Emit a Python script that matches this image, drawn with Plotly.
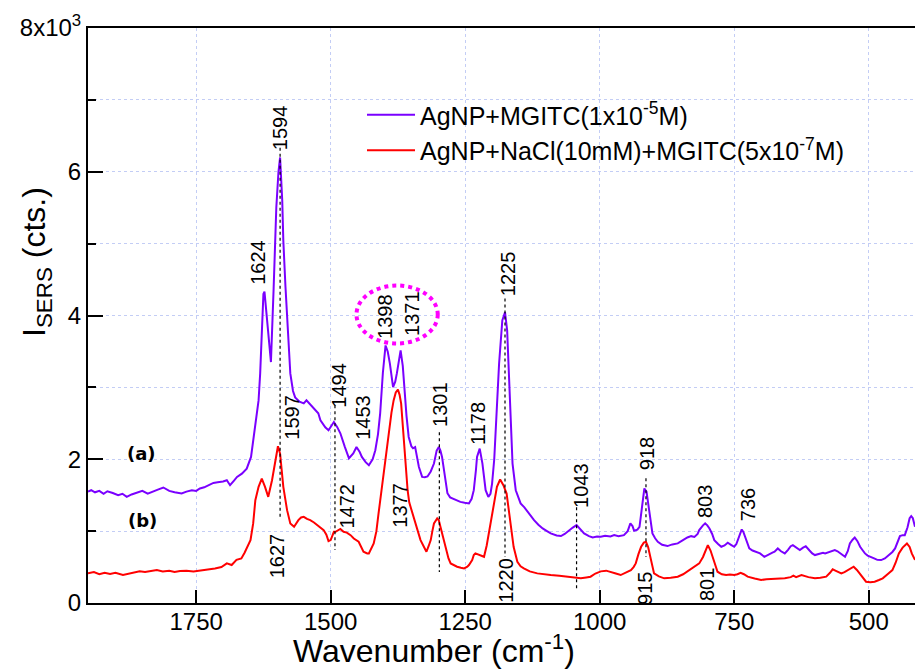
import plotly.graph_objects as go

# ---------------- data ----------------
wn_a = [1951, 1945, 1938, 1930, 1922, 1915, 1905, 1895, 1887, 1879, 1870, 1860, 1850, 1840, 1830,
        1820, 1811, 1800, 1790, 1777, 1768, 1758, 1750, 1743, 1735, 1727, 1718, 1710, 1700, 1693,
        1687, 1680, 1674, 1665, 1656, 1648, 1640, 1634, 1631, 1628, 1625, 1623, 1620, 1616, 1611,
        1606, 1601, 1597, 1594, 1590, 1588, 1584, 1580, 1575, 1570, 1566, 1558, 1550, 1545, 1538,
        1530, 1523, 1519, 1510, 1504, 1497, 1494, 1488, 1482, 1474, 1466, 1458, 1452, 1446, 1442,
        1435, 1429, 1422, 1417, 1412, 1408, 1403, 1398, 1394, 1390, 1384, 1380, 1377, 1373, 1370,
        1366, 1363, 1359, 1355, 1350, 1347, 1343, 1340, 1336, 1330, 1325, 1320, 1314, 1308, 1303,
        1299, 1296, 1293, 1288, 1283, 1278, 1274, 1266, 1259, 1251, 1243, 1238, 1234, 1230, 1228,
        1223, 1218, 1212, 1207, 1203, 1200, 1196, 1193, 1187, 1181, 1176, 1172, 1167, 1162, 1156,
        1150, 1147, 1140, 1134, 1128, 1122, 1114, 1106, 1098, 1091, 1080, 1072, 1065, 1057, 1050,
        1043, 1036, 1029, 1020, 1013, 1005, 998, 990, 980, 973, 965, 955, 948, 943, 939,
        936, 930, 926, 922, 917, 913, 911, 906, 902, 897, 892, 884, 874, 865, 855,
        846, 837, 830, 824, 818, 815, 808, 804, 800, 796, 791, 787, 780, 774, 768,
        762, 756, 750, 746, 743, 739, 736, 733, 730, 726, 722, 716, 710, 702, 694,
        686, 679, 675, 669, 663, 656, 650, 645, 641, 635, 628, 622, 617, 610, 605,
        600, 592, 585, 581, 572, 563, 558, 553, 548, 544, 539, 535, 530, 526, 521,
        516, 511, 507, 502, 498, 490, 484, 477, 470, 465, 461, 456, 451, 446, 442,
        437, 433, 428, 424, 421, 418, 414]
int_a = [1550, 1569, 1540, 1560, 1520, 1555, 1530, 1500, 1520, 1477, 1510, 1530, 1560, 1520, 1545,
         1580, 1607, 1560, 1540, 1523, 1550, 1570, 1560, 1593, 1610, 1640, 1671, 1680, 1690, 1708,
         1639, 1700, 1754, 1800, 1870, 2032, 2449, 2819, 3194, 3900, 4300, 4333, 4100, 3700, 3352,
         4375, 5505, 6000, 6199, 5600, 5042, 4400, 3889, 3194, 2950, 2861, 2800, 2778, 2820, 2760,
         2700, 2639, 2542, 2444, 2403, 2480, 2518, 2450, 2361, 2180, 2014, 2080, 2171, 2100, 2032,
         1960, 1917, 2000, 2125, 2350, 2639, 3200, 3583, 3500, 3333, 3004, 3080, 3194, 3420, 3514,
         3300, 2958, 2600, 2310, 2180, 2153, 2170, 2050, 1893, 1754, 1750, 1760, 1830, 1940, 2120,
         2171, 2120, 2032, 1750, 1528, 1470, 1458, 1430, 1407, 1395, 1385, 1450, 1570, 1850, 2032,
         2148, 1944, 1569, 1477, 1520, 1662, 2000, 2403, 3329, 3931, 4046, 3792, 2865, 1940, 1569,
         1450, 1385, 1330, 1268, 1210, 1153, 1090, 1037, 1000, 968, 940, 931, 960, 1014, 1050,
         1083, 1030, 968, 930, 912, 925, 921, 935, 925, 944, 930, 944, 1000, 1107, 1070,
         1005, 1020, 1060, 1300, 1593, 1550, 1431, 1150, 968, 900, 852, 810, 792, 815, 829,
         870, 912, 930, 920, 960, 1014, 1080, 1107, 1080, 1037, 960, 875, 820, 782, 800,
         838, 810, 782, 820, 875, 960, 1023, 990, 921, 830, 759, 730, 713, 690, 643,
         680, 700, 713, 759, 720, 690, 740, 790, 806, 770, 736, 770, 790, 730, 690,
         667, 680, 700, 690, 710, 736, 720, 690, 665, 643, 720, 829, 880, 912, 860,
         782, 730, 690, 660, 643, 620, 600, 597, 620, 650, 667, 710, 759, 850, 931,
         944, 944, 1050, 1180, 1208, 1180, 1060]

wn_b = [1951, 1940, 1930, 1920, 1910, 1900, 1886, 1875, 1865, 1855, 1845, 1835, 1823, 1812, 1800,
        1790, 1780, 1768, 1755, 1745, 1735, 1725, 1715, 1703, 1693, 1684, 1675, 1666, 1660, 1653,
        1649, 1644, 1640, 1634, 1628, 1622, 1616, 1609, 1603, 1598, 1594, 1588, 1581, 1575, 1568,
        1560, 1555, 1550, 1544, 1538, 1531, 1525, 1519, 1513, 1508, 1504, 1500, 1494, 1491, 1482,
        1476, 1470, 1463, 1457, 1448, 1439, 1432, 1429, 1420, 1415, 1411, 1406, 1401, 1396, 1391,
        1387, 1383, 1379, 1375, 1372, 1369, 1366, 1363, 1360, 1357, 1354, 1350, 1346, 1342, 1338,
        1333, 1327, 1322, 1318, 1314, 1311, 1308, 1302, 1299, 1296, 1291, 1286, 1281, 1277, 1270,
        1265, 1258, 1252, 1246, 1243, 1237, 1234, 1231, 1223, 1215, 1210, 1206, 1201, 1197, 1191,
        1185, 1179, 1173, 1170, 1167, 1164, 1160, 1153, 1147, 1141, 1130, 1116, 1105, 1091, 1075,
        1060, 1048, 1035, 1025, 1017, 1008, 998, 988, 979, 970, 961, 952, 942, 937, 933,
        928, 923, 918, 914, 910, 906, 902, 899, 890, 880, 868, 855, 845, 833, 824,
        815, 808, 804, 801, 799, 794, 790, 785, 781, 773, 765, 758, 750, 744, 738,
        732, 725, 712, 700, 690, 675, 656, 645, 640, 635, 625, 612, 600, 590, 579,
        572, 567, 562, 557, 551, 545, 539, 532, 528, 522, 517, 511, 505, 497, 489,
        481, 474, 465, 456, 450, 444, 437, 429, 424, 420, 414]
int_b = [412, 430, 400, 420, 405, 420, 389, 410, 420, 440, 430, 445, 458, 440, 450,
         430, 445, 450, 440, 450, 465, 470, 480, 500, 551, 528, 600, 620, 700, 800,
         875, 1107, 1431, 1616, 1731, 1616, 1477, 1708, 1986, 2181, 2079, 1616, 1292, 1107, 1060,
         1153, 1190, 1199, 1170, 1153, 1120, 1083, 1050, 1014, 950, 860, 875, 990, 990, 1030,
         990, 980, 944, 898, 852, 713, 690, 690, 829, 1000, 1246, 1550, 1847, 2130, 2403,
         2650, 2819, 2930, 2968, 2900, 2773, 2450, 2171, 1850, 1569, 1400, 1292, 1200, 1107, 1000,
         875, 780, 713, 790, 875, 1000, 1107, 1176, 1150, 1060, 900, 736, 620, 551, 520,
         505, 490, 482, 505, 528, 597, 667, 690, 670, 643, 800, 968, 1200, 1385, 1616,
         1718, 1639, 1523, 1350, 1153, 950, 782, 574, 510, 482, 440, 412, 400, 389, 380,
         366, 355, 343, 355, 366, 410, 440, 450, 435, 410, 389, 420, 458, 500, 551,
         680, 782, 840, 852, 780, 643, 500, 412, 370, 343, 350, 366, 400, 458, 500,
         551, 640, 713, 790, 806, 730, 643, 530, 435, 400, 389, 395, 389, 400, 421,
         400, 366, 340, 320, 330, 335, 343, 360, 380, 360, 389, 360, 343, 350, 366,
         420, 468, 450, 430, 412, 430, 458, 490, 505, 460, 412, 350, 296, 290, 296,
         320, 343, 400, 458, 560, 690, 770, 829, 780, 690, 600]

series_names = ["AgNP+MGITC(1x10<sup>-5</sup>M)",
                "AgNP+NaCl(10mM)+MGITC(5x10<sup>-7</sup>M)"]
x_tick_vals = [1750, 1500, 1250, 1000, 750, 500]
y_tick_vals = [0, 2000, 4000, 6000, 8000]
y_tick_text = ["0", "2", "4", "6", "8x10<sup>3</sup>"]

peak_labels = ["1594", "1624", "1597", "1627", "1494", "1453", "1472", "1398", "1371", "1377",
               "1301", "1178", "1225", "1220", "1043", "918", "915", "803", "801", "736"]
# ---------------- layout helpers ----------------
label_xy = [(1593.6, 6611), (1636.4, 4736), (1571.3, 2583), (1599.2, 653), (1483.8, 3028),
            (1439.1, 2583), (1468.9, 1347), (1400.0, 3986), (1347.9, 4028), (1370.3, 1361),
            (1295.8, 2764), (1225.1, 2500), (1171.1, 4583), (1174.8, 319), (1035.2, 1639),
            (912.3, 2083), (916.0, 208), (804.4, 1417), (800.6, 264), (724.4, 1375)]
guide_lines = [(1594, 6333, 1181), (1492, 2750, 736), (1298, 2375, 430),
               (1176, 4236, 639), (1043, 1333, 180), (914, 1736, 639)]

FONT = "Liberation Sans, Arial, sans-serif"
PURPLE = "#7a00ff"
RED = "#ff0000"
GRID = "#c3cdf5"

fig = go.Figure()
fig.add_trace(go.Scatter(x=wn_a, y=int_a, mode="lines", name=series_names[0],
                         line=dict(color=PURPLE, width=2)))
fig.add_trace(go.Scatter(x=wn_b, y=int_b, mode="lines", name=series_names[1],
                         line=dict(color=RED, width=2)))

annotations = []
for txt, (lx, ly) in zip(peak_labels, label_xy):
    annotations.append(dict(x=lx, y=ly, xref="x", yref="y", text=txt, showarrow=False,
                            textangle=-90, xanchor="center", yanchor="middle",
                            font=dict(family=FONT, size=20, color="black")))
annotations.append(dict(x=(141 - 88) / 827, y=(603 - 453) / 575, xref="paper", yref="paper",
                        text="<b>(a)</b>", showarrow=False, xanchor="center", yanchor="middle",
                        font=dict(family="DejaVu Sans", size=18, color="black")))
annotations.append(dict(x=(142 - 88) / 827, y=(603 - 520) / 575, xref="paper", yref="paper",
                        text="<b>(b)</b>", showarrow=False, xanchor="center", yanchor="middle",
                        font=dict(family="DejaVu Sans", size=18, color="black")))
annotations.append(dict(x=(36 - 88) / 827, y=(603 - 262) / 575, xref="paper", yref="paper",
                        text="I<sub>SERS</sub> (cts.)", showarrow=False, textangle=-90,
                        xanchor="center", yanchor="middle",
                        font=dict(family=FONT, size=32, color="black")))
annotations.append(dict(x=(434 - 88) / 827, y=(603 - 649) / 575, xref="paper", yref="paper",
                        text="Wavenumber (cm<sup>-1</sup>)", showarrow=False,
                        xanchor="center", yanchor="middle",
                        font=dict(family=FONT, size=32, color="black")))

shapes = []
for gx, gy0, gy1 in guide_lines:
    shapes.append(dict(type="line", xref="x", yref="y", x0=gx, x1=gx, y0=gy0, y1=gy1,
                       line=dict(color="black", width=1.2, dash="dot")))
shapes.append(dict(type="circle", xref="x", yref="y", x0=1452, x1=1301, y0=3611, y1=4417,
                   line=dict(color="#ff00ff", width=4, dash="dot")))

fig.update_layout(
    width=915, height=670,
    margin=dict(l=88, r=0, t=28, b=67),
    paper_bgcolor="white", plot_bgcolor="white",
    font=dict(family=FONT, size=24, color="black"),
    showlegend=True,
    legend=dict(x=(362 - 88) / 827, y=(603 - 92) / 575, xanchor="left", yanchor="top",
                bgcolor="rgba(0,0,0,0)", font=dict(family=FONT, size=25, color="black"),
                itemwidth=48, tracegroupgap=0),
    annotations=annotations,
    shapes=shapes,
    xaxis=dict(range=[1951, 414], autorange=False, tickvals=x_tick_vals,
               ticks="inside", ticklen=13, tickwidth=1.5, tickcolor="black",
               showline=True, linewidth=2, linecolor="black", mirror=True,
               showgrid=True, gridcolor=GRID, griddash="dot", gridwidth=1,
               zeroline=False, tickfont=dict(family=FONT, size=24), ticklabelstandoff=-4),
    yaxis=dict(range=[0, 8000], autorange=False, tickvals=y_tick_vals, ticktext=y_tick_text,
               ticks="inside", ticklen=15, tickwidth=1.5, tickcolor="black",
               showline=True, linewidth=2, linecolor="black",
               showgrid=True, gridcolor=GRID, griddash="dot", gridwidth=1,
               zeroline=False, tickfont=dict(family=FONT, size=24),
               minor=dict(tickvals=[1000, 3000, 5000, 7000], ticks="inside", ticklen=8,
                          tickcolor="black", showgrid=True, gridcolor=GRID, griddash="dot")),
)

fig.write_html("out.html", config={"displayModeBar": False},
               post_script="document.body.style.margin='0';"
                           "document.body.style.overflow='hidden';")
